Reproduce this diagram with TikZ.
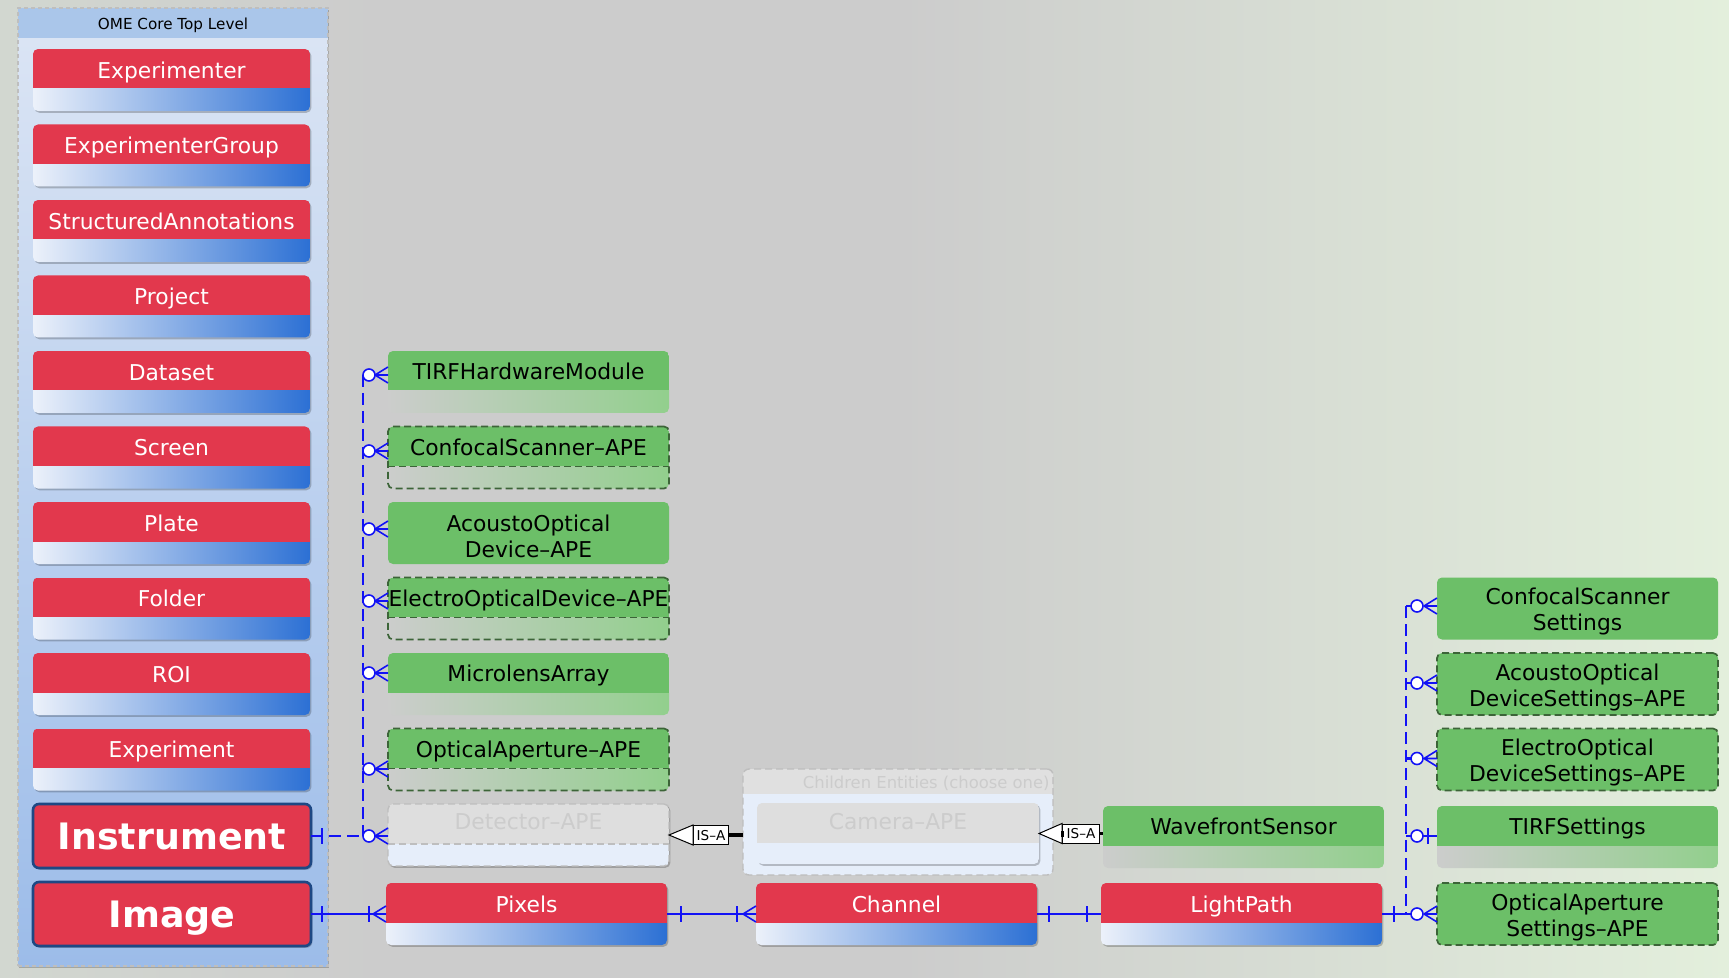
\documentclass[tikz,border=0pt]{standalone}
\usepackage{fontspec}
\setmainfont{DejaVu Sans}
\usetikzlibrary{shadows,calc}
\definecolor{cRed}{RGB}{226,56,77}
\definecolor{cGL}{RGB}{236,241,250}
\definecolor{cGR}{RGB}{44,112,212}
\definecolor{cGreen}{RGB}{108,191,104}
\definecolor{cGgL}{RGB}{204,205,204}
\definecolor{cGgR}{RGB}{146,207,141}
\definecolor{cDGreen}{RGB}{60,100,56}
\definecolor{cBlue}{RGB}{18,18,245}
\definecolor{cInst}{RGB}{30,72,132}
\definecolor{cFadeT}{RGB}{204,204,204}
\definecolor{cFadeH}{RGB}{222,222,222}
\definecolor{cFadeB}{RGB}{230,238,250}
\definecolor{cFadeE}{RGB}{190,190,190}
\definecolor{cChH}{RGB}{224,224,224}
\definecolor{bgL}{RGB}{210,215,208}
\definecolor{bgM}{RGB}{204,204,204}
\definecolor{bgR}{RGB}{227,239,220}
\definecolor{cContH}{RGB}{170,198,234}
\definecolor{cContT}{RGB}{218,228,244}
\definecolor{cContB}{RGB}{156,188,233}
\pgfdeclarehorizontalshading{bgshade}{100bp}{color(0bp)=(bgL); color(25bp)=(bgL); color(36bp)=(bgM); color(51bp)=(bgM); color(75bp)=(bgR); color(100bp)=(bgR)}

\newcommand\mkred[5]{\node[redbox, minimum width=#4] (#1) at (#2,#3) {};
  \node[wtxt] (#1-t) at ([yshift=-10.7pt]#1.north) {#5};}
\newcommand\mkgreen[5]{\node[#1] (#2) at (#3,#4) {};
  \node[ktxtone] (#2-t) at ([yshift=-10.5pt]#2.north) {#5};}
\newcommand\mkgreentwo[5]{\node[#1] (#2) at (#3,#4) {};
  \node[ktxt] (#2-t) at ([yshift=-1.6pt]#2.center) {#5};}
\newcommand\sepline[2]{\draw[#2] ([yshift=-20pt]#1.north west) -- ([yshift=-20pt]#1.north east);}
\newcommand\crowfoot[1]{\draw[erthin] ($(#1)+(-13,0)$) -- ($(#1)+(0,-8)$) ($(#1)+(-13,0)$) -- (#1) ($(#1)+(-13,0)$) -- ($(#1)+(0,8)$);}
\newcommand\ocirc[2]{\draw[erthin, fill=white] ($(#1)+(#2,0)$) circle[radius=6];}
\newcommand\tick[2]{\draw[erl] ($(#1)+(#2,-8)$) -- ($(#1)+(#2,8)$);}

\begin{document}
\begin{tikzpicture}[x=0.5pt,y=-0.5pt,
  ent/.style={anchor=north west, rounded corners=2.5pt, minimum width=140.5pt, minimum height=31pt, inner sep=0pt, outer sep=0pt},
  shadowed/.style={drop shadow={shadow xshift=0.7pt, shadow yshift=-0.9pt, opacity=0.22, fill=black}},
  redbox/.style={ent, shadowed, path picture={
     \fill[cRed, sharp corners] (path picture bounding box.north west) rectangle ([yshift=-20pt]path picture bounding box.north east);
     \shade[left color=cGL, right color=cGR, sharp corners] ([yshift=-20pt]path picture bounding box.north west) rectangle (path picture bounding box.south east);}},
  greenbox/.style={ent, path picture={
     \fill[cGreen, sharp corners] (path picture bounding box.north west) rectangle ([yshift=-20pt]path picture bounding box.north east);
     \shade[left color=cGgL, right color=cGgR, sharp corners] ([yshift=-20pt]path picture bounding box.north west) rectangle (path picture bounding box.south east);}},
  greenfull/.style={ent, fill=cGreen},
  fadebox/.style={ent, path picture={
     \fill[cFadeH, sharp corners] (path picture bounding box.north west) rectangle ([yshift=-20pt]path picture bounding box.north east);
     \fill[cFadeB, sharp corners] ([yshift=-20pt]path picture bounding box.north west) rectangle (path picture bounding box.south east);}},
  dashedge/.style={draw=cDGreen, line width=0.85pt, dash pattern=on 3.5pt off 2pt},
  fadeedge/.style={draw=cFadeE, line width=0.7pt, dash pattern=on 3.5pt off 2pt},
  wtxt/.style={text=white, font=\fontsize{10.9}{13}\selectfont, text height=7.9pt, text depth=0pt, inner sep=0pt},
  ktxtone/.style={text=black, font=\fontsize{10.9}{13}\selectfont, text height=7.9pt, text depth=0pt, inner sep=0pt},
  ktxt/.style={text=black, font=\fontsize{10.9}{13.1}\selectfont, align=center, inner sep=0pt},
  fadetxt/.style={text=cFadeT, font=\fontsize{10.9}{13}\selectfont, text height=7.9pt, text depth=0pt, inner sep=0pt},
  bigtxt/.style={text=white, font=\fontsize{18.2}{22}\selectfont\bfseries, text height=13.3pt, text depth=0pt, inner sep=0pt},
  bigbox/.style={ent, minimum width=139pt, minimum height=32pt, rounded corners=3pt, fill=cRed, draw=cInst, line width=1.3pt, shadowed},
  erl/.style={draw=cBlue, line width=1.1pt},
  erthin/.style={draw=cBlue, line width=0.8pt},
  erdash/.style={draw=cBlue, line width=1.1pt, dash pattern=on 6pt off 3pt},
  isabox/.style={draw=black, line width=0.5pt, fill=white, font=\fontsize{6.8}{8}\selectfont, inner sep=0pt, minimum height=9.5pt, minimum width=17.5pt, text height=5pt, text depth=0pt},
]
\useasboundingbox (0,0) rectangle (1729,978);
\shade[shading=bgshade] (0,0) rectangle (1729,978);

% ---- core container
\node[anchor=north west, minimum width=155pt, minimum height=479pt, inner sep=0pt, outer sep=0pt,
  draw=cFadeE, line width=0.6pt, dash pattern=on 2pt off 1.5pt, shadowed,
  path picture={
    \fill[cContH] (path picture bounding box.north west) rectangle ([yshift=-15.5pt]path picture bounding box.north east);
    \shade[top color=cContT, bottom color=cContB] ([yshift=-15.5pt]path picture bounding box.north west) rectangle (path picture bounding box.south east);}] (core) at (18,8) {};
\node[font=\fontsize{7.6}{9}\selectfont, inner sep=0pt, text height=5.5pt, text depth=0pt] (core-t) at ($(core.north)+(0,16)$) {OME Core Top Level};

\mkred{experimenter}{33}{49}{138.5pt}{Experimenter}
\mkred{expgroup}{33}{124.5}{138.5pt}{ExperimenterGroup}
\mkred{structann}{33}{200}{138.5pt}{StructuredAnnotations}
\mkred{project}{33}{275.5}{138.5pt}{Project}
\mkred{dataset}{33}{351}{138.5pt}{Dataset}
\mkred{screen}{33}{426.5}{138.5pt}{Screen}
\mkred{plate}{33}{502}{138.5pt}{Plate}
\mkred{folder}{33}{577.5}{138.5pt}{Folder}
\mkred{roi}{33}{653}{138.5pt}{ROI}
\mkred{experiment}{33}{728.5}{138.5pt}{Experiment}

\node[bigbox] (instrument) at (33,804) {};
\node[bigtxt] (instrument-t) at (instrument.center) {Instrument};
\node[bigbox] (image) at (33,882) {};
\node[bigtxt] (image-t) at (image.center) {Image};

% ---- left green column
\mkgreen{greenbox}{tirfhw}{388}{351}{TIRFHardwareModule}
\mkgreen{greenbox, dashedge}{confocal}{388}{426.5}{ConfocalScanner–APE}
\sepline{confocal}{dashedge}
\mkgreentwo{greenfull}{acousto}{388}{502}{AcoustoOptical\\Device–APE}
\mkgreen{greenbox, dashedge}{electro}{388}{577.5}{ElectroOpticalDevice–APE}
\sepline{electro}{dashedge}
\mkgreen{greenbox}{microlens}{388}{653}{MicrolensArray}
\mkgreen{greenbox, dashedge}{optap}{388}{728.5}{OpticalAperture–APE}
\sepline{optap}{dashedge}
\node[fadebox, fadeedge, shadowed] (detector) at (388,804) {};
\sepline{detector}{fadeedge}
\node[fadetxt] (detector-t) at ([yshift=-8.8pt]detector.north) {Detector–APE};

% ---- bottom row
\mkred{pixels}{386}{883}{140.5pt}{Pixels}
\mkred{channel}{756}{883}{140.5pt}{Channel}
\mkred{lightpath}{1101}{883}{140.5pt}{LightPath}

% ---- children container
\node[anchor=north west, minimum width=155pt, minimum height=53pt, inner sep=0pt, outer sep=0pt, rounded corners=3pt,
  draw=cFadeE, line width=0.7pt, dash pattern=on 3.5pt off 2pt,
  path picture={
    \fill[cChH, sharp corners] (path picture bounding box.north west) rectangle ([yshift=-12.5pt]path picture bounding box.north east);
    \fill[cFadeB, sharp corners] ([yshift=-12.5pt]path picture bounding box.north west) rectangle (path picture bounding box.south east);}] (children) at (743,769) {};
\node[font=\fontsize{8.2}{10}\selectfont, text=cFadeT, anchor=east, inner sep=0pt, text height=6pt, text depth=0pt] (children-t) at ($(children.north east)+(-3,13)$) {Children Entities (choose one)};
\node[fadebox, minimum width=141pt, minimum height=30.5pt, shadowed] (camera) at (757,803) {};
\node[fadetxt] (camera-t) at ([yshift=-9.3pt]camera.north) {Camera–APE};

\mkgreen{greenbox}{wavefront}{1103}{806}{WavefrontSensor}

% ---- right column
\mkgreentwo{greenfull}{css}{1437}{577.5}{ConfocalScanner\\Settings}
\mkgreentwo{greenfull, dashedge}{aods}{1437}{653}{AcoustoOptical\\DeviceSettings–APE}
\mkgreentwo{greenfull, dashedge}{eods}{1437}{728.5}{ElectroOptical\\DeviceSettings–APE}
\mkgreen{greenbox}{tirfs}{1437}{806}{TIRFSettings}
\mkgreentwo{greenfull, dashedge}{oas}{1437}{883}{OpticalAperture\\Settings–APE}

% ---- IS-A relations
\node[isabox, anchor=west] (isa1) at ($(detector.east)+(24,0)$) {IS–A};
\draw[line width=0.5pt, fill=white] (detector.east) -- (isa1.north west) -- (isa1.south west) -- cycle;
\draw[line width=1.8pt] (isa1.east) -- (isa1.east -| children.west);
\node[isabox, anchor=east, minimum width=18.5pt] (isa2) at ($(camera.east -| wavefront.west)+(-3,0)$) {IS–A};
\draw[line width=0.5pt, fill=white] (camera.east) -- (isa2.north west) -- (isa2.south west) -- cycle;
\draw[line width=1.8pt] (isa2.east) -- (isa2.east -| wavefront.west);
\fill ($(isa2.west)+(-1.5,-3)$) rectangle ($(isa2.west)+(1.5,3)$);

% ---- left bus (Instrument)
\coordinate (tirfhw-a) at ($(tirfhw.north west)+(0,24)$);
\coordinate (confocal-a) at ($(confocal.north west)+(0,24.5)$);
\coordinate (acousto-a) at ($(acousto.north west)+(0,27)$);
\coordinate (electro-a) at ($(electro.north west)+(0,23.5)$);
\coordinate (microlens-a) at ($(microlens.north west)+(0,20)$);
\coordinate (optap-a) at ($(optap.north west)+(0,40.5)$);
\coordinate (detector-a) at ($(detector.north west)+(0,32)$);
\coordinate (lbusT) at ($(tirfhw-a)+(-25,0)$);
\coordinate (lbusB) at ($(detector-a)+(-25,0)$);
\draw[erdash] (lbusT) -- (lbusB);
\draw[erdash] (instrument.east) -- (lbusB);
\tick{instrument.east}{11}
\foreach \a in {tirfhw-a,confocal-a,acousto-a,electro-a,microlens-a,optap-a,detector-a}{
  \crowfoot{\a}
  \ocirc{\a}{-19}
}

% ---- bottom chain
\draw[erl] (image.east) -- (pixels.west);
\tick{image.east}{11}
\tick{pixels.west}{-17}
\crowfoot{pixels.west}
\draw[erl] (pixels.east) -- (channel.west);
\tick{pixels.east}{14}
\tick{channel.west}{-19}
\crowfoot{channel.west}
\draw[erl] (channel.east) -- (lightpath.west);
\tick{channel.east}{12}
\tick{lightpath.west}{-14}

% ---- right bus (LightPath)
\coordinate (css-a) at ($(css.north west)+(0,28.5)$);
\coordinate (aods-a) at ($(aods.north west)+(0,30)$);
\coordinate (eods-a) at ($(eods.north west)+(0,30)$);
\coordinate (tirfs-a) at ($(tirfs.north west)+(0,30)$);
\coordinate (oas-a) at ($(oas.north west)+(0,31)$);
\coordinate (rbusT) at ($(css-a)+(-31,0)$);
\coordinate (rbusB) at ($(oas-a)+(-31,0)$);
\draw[erdash] (rbusT) -- (rbusB);
\draw[erl] (lightpath.east) -- (rbusB);
\tick{lightpath.east}{12}
\foreach \a in {css-a,aods-a,eods-a,oas-a}{
  \draw[erl] ($(\a)+(-31,0)$) -- ($(\a)+(-20,0)$);
  \crowfoot{\a}
  \ocirc{\a}{-20}
}
\draw[erl] ($(tirfs-a)+(-31,0)$) -- (tirfs-a);
\tick{tirfs-a}{-9}
\ocirc{tirfs-a}{-20}
\end{tikzpicture}
\end{document}
